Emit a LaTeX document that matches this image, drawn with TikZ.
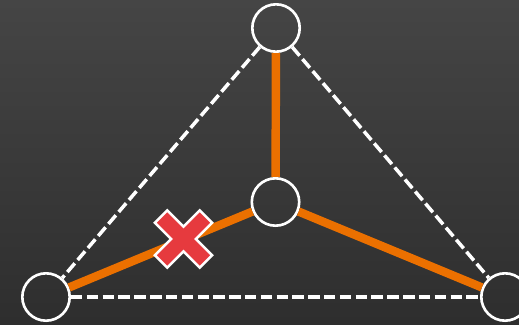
\documentclass[tikz,border=0pt]{standalone}
\definecolor{bgtop}{RGB}{69,69,69}
\definecolor{bgbottom}{RGB}{46,46,46}
\definecolor{spokeorange}{RGB}{235,112,0}
\definecolor{crossred}{RGB}{230,58,62}
\begin{document}
\begin{tikzpicture}[x=0.02cm,y=-0.02cm,
  vertex/.style={circle, draw=white, line width=1.5pt, minimum size=0.948cm, inner sep=0pt},
  spoke/.style={draw=spokeorange, line width=4.8pt},
  rim/.style={draw=white, line width=2pt, dash pattern=on 6.5pt off 2.5pt},
  blocked/.style={fill=crossred, draw=white, line width=1.4pt, line join=miter}]
  % background
  \shade[top color=bgtop, bottom color=bgbottom] (0,0) rectangle (519,324);
  \useasboundingbox (0,0) rectangle (519,324);

  % vertices
  \node[vertex] (top) at (276,28) {};
  \node[vertex] (mid) at (275.5,202) {};
  \node[vertex] (left) at (46,297) {};
  \node[vertex] (right) at (505,297) {};

  % outer triangle
  \draw[rim] (top) -- (left);
  \draw[rim] (top) -- (right);
  \draw[rim] (left) -- (right);

  % spokes from the centre
  \draw[spoke] (mid) -- (top);
  \draw[spoke] (mid) -- (left);
  \draw[spoke] (mid) -- (right);

  % cross marking the broken spoke
  \coordinate (cut) at (183.5,239);
  \path[blocked, shift={(cut)}, rotate=45]
    (-8.8,-31.8) -- (8.8,-31.8) -- (8.8,-8.8) -- (31.8,-8.8) -- (31.8,8.8)
    -- (8.8,8.8) -- (8.8,31.8) -- (-8.8,31.8) -- (-8.8,8.8) -- (-31.8,8.8)
    -- (-31.8,-8.8) -- (-8.8,-8.8) -- cycle;
\end{tikzpicture}
\end{document}
